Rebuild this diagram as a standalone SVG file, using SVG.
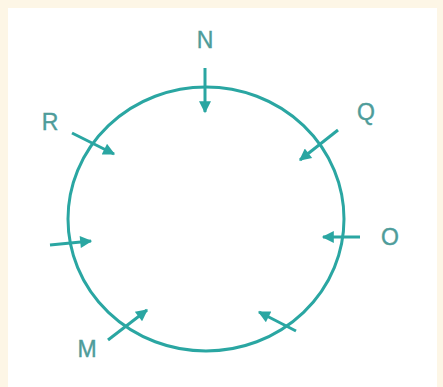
<svg xmlns="http://www.w3.org/2000/svg" width="443" height="387" viewBox="0 0 443 387">
<style>
.lbl{font-family:"Liberation Sans",Arial,sans-serif;font-size:23px;fill:#4e9c9a;text-anchor:middle;stroke:#4e9c9a;stroke-width:0.4}
.arr{stroke:#2aa6a2;stroke-width:3;fill:none;marker-end:url(#ah)}
</style>
<defs>
<marker id="ah" viewBox="0 0 10 10" refX="9" refY="5" markerWidth="4.5" markerHeight="4" markerUnits="strokeWidth" orient="auto">
<path d="M0,0 L10,5 L0,10 z" fill="#2aa6a2"/>
</marker>
</defs>
<rect width="443" height="387" fill="#fdf6e6"/>
<rect x="8" y="8" width="429" height="379" fill="#ffffff"/>
<g id="circle"><ellipse cx="206" cy="219" rx="138" ry="132" fill="none" stroke="#2aa6a2" stroke-width="3"/></g>
<g id="N"><text class="lbl" x="205" y="48">N</text></g>
<g id="R"><text class="lbl" x="50" y="130">R</text></g>
<g id="Q"><text class="lbl" x="366" y="120">Q</text></g>
<g id="O"><text class="lbl" x="390" y="245">O</text></g>
<g id="M"><text class="lbl" x="87" y="357">M</text></g>
<g id="connectors">
<line class="arr" x1="205" y1="68" x2="205" y2="112"/>
<line class="arr" x1="72" y1="133" x2="114" y2="154"/>
<line class="arr" x1="338" y1="130" x2="300" y2="160"/>
<line class="arr" x1="50" y1="245" x2="91" y2="241"/>
<line class="arr" x1="360" y1="237" x2="323" y2="237"/>
<line class="arr" x1="108" y1="340" x2="147" y2="310"/>
<line class="arr" x1="296" y1="331" x2="259" y2="312"/>
</g>
</svg>
